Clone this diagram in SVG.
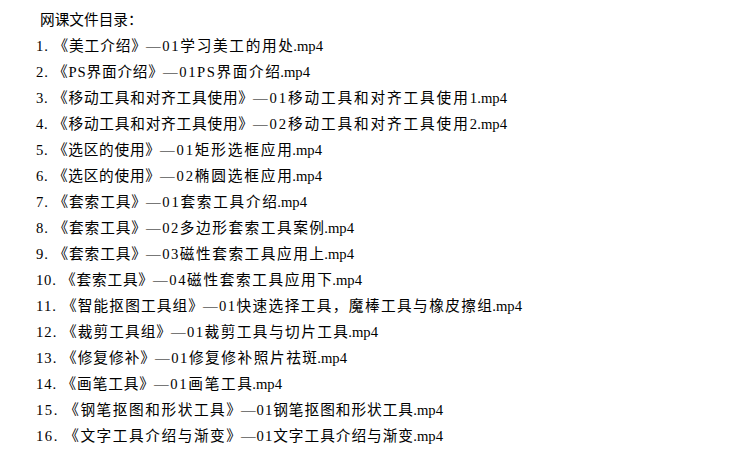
<svg xmlns="http://www.w3.org/2000/svg" width="750" height="458" viewBox="0 0 750 458">
<style>
text{font-family:"Liberation Serif","Noto Sans CJK SC",serif;font-size:14.67px;fill:#000}
.ext{text-anchor:end}
</style>
<rect width="750" height="458" fill="#fff"/>
<g id="list">
<text x="40" y="25">网课文件目录：</text>
<g id="row1"><text x="36" y="51" textLength="110" lengthAdjust="spacing">1. 《美工介绍》</text><text x="146" y="51" textLength="147" lengthAdjust="spacing">—01学习美工的用处</text><text class="ext" x="323" y="51">.mp4</text></g>
<g id="row2"><text x="36" y="77" textLength="127" lengthAdjust="spacing">2. 《PS界面介绍》</text><text x="163" y="77" textLength="117" lengthAdjust="spacing">—01PS界面介绍</text><text class="ext" x="310" y="77">.mp4</text></g>
<g id="row3"><text x="36" y="103" textLength="217" lengthAdjust="spacing">3. 《移动工具和对齐工具使用》</text><text x="253" y="103" textLength="224" lengthAdjust="spacing">—01移动工具和对齐工具使用1</text><text class="ext" x="507" y="103">.mp4</text></g>
<g id="row4"><text x="36" y="129" textLength="217" lengthAdjust="spacing">4. 《移动工具和对齐工具使用》</text><text x="253" y="129" textLength="224" lengthAdjust="spacing">—02移动工具和对齐工具使用2</text><text class="ext" x="507" y="129">.mp4</text></g>
<g id="row5"><text x="36" y="155" textLength="124" lengthAdjust="spacing">5. 《选区的使用》</text><text x="160" y="155" textLength="132" lengthAdjust="spacing">—01矩形选框应用</text><text class="ext" x="322" y="155">.mp4</text></g>
<g id="row6"><text x="36" y="181" textLength="124" lengthAdjust="spacing">6. 《选区的使用》</text><text x="160" y="181" textLength="132" lengthAdjust="spacing">—02椭圆选框应用</text><text class="ext" x="322" y="181">.mp4</text></g>
<g id="row7"><text x="36" y="207" textLength="110" lengthAdjust="spacing">7. 《套索工具》</text><text x="146" y="207" textLength="131" lengthAdjust="spacing">—01套索工具介绍</text><text class="ext" x="307" y="207">.mp4</text></g>
<g id="row8"><text x="36" y="233" textLength="110" lengthAdjust="spacing">8. 《套索工具》</text><text x="146" y="233" textLength="178" lengthAdjust="spacing">—02多边形套索工具案例</text><text class="ext" x="354" y="233">.mp4</text></g>
<g id="row9"><text x="36" y="259" textLength="110" lengthAdjust="spacing">9. 《套索工具》</text><text x="146" y="259" textLength="178" lengthAdjust="spacing">—03磁性套索工具应用上</text><text class="ext" x="354" y="259">.mp4</text></g>
<g id="row10"><text x="36" y="285" textLength="117" lengthAdjust="spacing">10. 《套索工具》</text><text x="153" y="285" textLength="179" lengthAdjust="spacing">—04磁性套索工具应用下</text><text class="ext" x="362" y="285">.mp4</text></g>
<g id="row11"><text x="36" y="311" textLength="167" lengthAdjust="spacing">11. 《智能抠图工具组》</text><text x="203" y="311" textLength="289" lengthAdjust="spacing">—01快速选择工具，魔棒工具与橡皮擦组</text><text class="ext" x="522" y="311">.mp4</text></g>
<g id="row12"><text x="36" y="337" textLength="135" lengthAdjust="spacing">12. 《裁剪工具组》</text><text x="171" y="337" textLength="177" lengthAdjust="spacing">—01裁剪工具与切片工具</text><text class="ext" x="378" y="337">.mp4</text></g>
<g id="row13"><text x="36" y="363" textLength="119" lengthAdjust="spacing">13. 《修复修补》</text><text x="155" y="363" textLength="162" lengthAdjust="spacing">—01修复修补照片祛斑</text><text class="ext" x="347" y="363">.mp4</text></g>
<g id="row14"><text x="36" y="389" textLength="118" lengthAdjust="spacing">14. 《画笔工具》</text><text x="154" y="389" textLength="98" lengthAdjust="spacing">—01画笔工具</text><text class="ext" x="282" y="389">.mp4</text></g>
<g id="row15"><text x="36" y="415" textLength="205" lengthAdjust="spacing">15. 《钢笔抠图和形状工具》</text><text x="241" y="415" textLength="172" lengthAdjust="spacing">—01钢笔抠图和形状工具</text><text class="ext" x="443" y="415">.mp4</text></g>
<g id="row16"><text x="36" y="441" textLength="205" lengthAdjust="spacing">16. 《文字工具介绍与渐变》</text><text x="241" y="441" textLength="172" lengthAdjust="spacing">—01文字工具介绍与渐变</text><text class="ext" x="443" y="441">.mp4</text></g>
</g>
</svg>
